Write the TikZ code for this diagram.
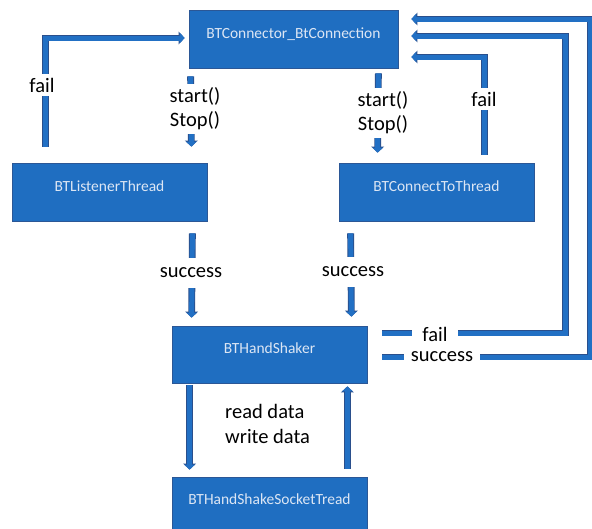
\documentclass[tikz,border=0pt]{standalone}
\usepackage{fontspec}
\setmainfont{Carlito}
\usetikzlibrary{arrows.meta,calc}
\definecolor{boxblue}{HTML}{1F6EC1}
\definecolor{boxedge}{HTML}{2B5796}
\definecolor{lineblue}{HTML}{2270C4}
\definecolor{lineedge}{HTML}{2A4F8C}
\definecolor{boxtext}{HTML}{DCE6F4}
\begin{document}
\begin{tikzpicture}[x=1pt,y=-1pt,
  blk/.style={draw=boxedge, line width=0.8pt, fill=boxblue, text=boxtext,
    font=\fontsize{15.5}{18}\selectfont, minimum height=58pt, inner sep=0pt,
    text height=10pt, text depth=12pt},
  flow/.style={draw=lineblue, line width=5pt, -{Triangle[width=10.5pt,length=5pt]},
    preaction={draw=lineedge, line width=6.8pt, -{Triangle[width=12.5pt,length=6pt]}}},
  lab/.style={fill=white, text=black, font=\fontsize{20.5}{24}\selectfont, inner sep=4pt},
  txt/.style={text=black, font=\fontsize{20.5}{25}\selectfont, inner sep=0pt}
]
\useasboundingbox (0,0) rectangle (592,528);
\fill[white] (0,0) rectangle (592,528);

\node[blk, minimum width=209pt] (conn) at (293.5,39) {BTConnector\_BtConnection};
\node[blk, minimum width=195pt] (listen) at (109.5,192) {BTListenerThread};
\node[blk, minimum width=195pt] (cto) at (436.5,192) {BTConnectToThread};
\node[blk, minimum width=195pt, minimum height=57pt] (hs) at (269.5,354.5) {BTHandShaker};
\node[blk, minimum width=195pt, minimum height=57pt] (sock) at (269.5,505.5) {BTHandShakeSocketTread};

% fail from listener
\draw[flow] ($(listen.north west)+(34,-16)$) |- ($(conn.west)+(-4,-1)$);
% start/stop left
\draw[flow] ($(conn.south west)+(2,8)$) -- ($(listen.north east)+(-16,-16)$);
% start/stop right
\draw[flow] ($(conn.south east)+(-20,5)$) -- ($(cto.north west)+(39,-10)$);
% fail from connect-to
\draw[flow] ($(cto.north east)+(-50,-8)$) |- ($(conn.east)+(13,18)$);
% outer fail
\draw[flow] ($(hs.east)+(15,-21.5)$) -| ($(conn.east)+(167,-3)$) -- ($(conn.east)+(13,-3)$);
% outer success
\draw[flow] ($(hs.east)+(15,2.5)$) -| ($(conn.east)+(192,-20)$) -- ($(conn.east)+(13,-20)$);
% success left / right
\draw[flow] ($(listen.south east)+(-15,12)$) -- ($(hs.north west)+(20,-8)$);
\draw[flow] ($(cto.south west)+(12,12)$) -- ($(hs.north east)+(-16,-9)$);
% read / write
\draw[flow] ($(hs.south west)+(18,2)$) -- ($(sock.north west)+(18,-7)$);
\draw[flow] ($(sock.north east)+(-20,-8)$) -- ($(hs.south east)+(-20,3)$);

% labels
\node[lab] (f1) at (42,85) {fail};
\node[lab, align=center] (ss1) at (195,109) {start()\\Stop()};
\node[lab, align=center] (ss2) at (383,113) {start()\\Stop()};
\node[lab] (f2) at (484,99) {fail};
\node[lab, inner xsep=10pt] (f3) at (435,334) {fail};
\node[lab, inner xsep=7pt, inner ysep=2pt] (s3) at (442,357) {success};
\node[lab, inner ysep=10pt] (s1) at (191,273) {success};
\node[lab, inner ysep=10pt] (s2) at (353,272) {success};
\node[txt, align=left, anchor=west] (rw) at (225,424) {read data\\write data};
\end{tikzpicture}
\end{document}
